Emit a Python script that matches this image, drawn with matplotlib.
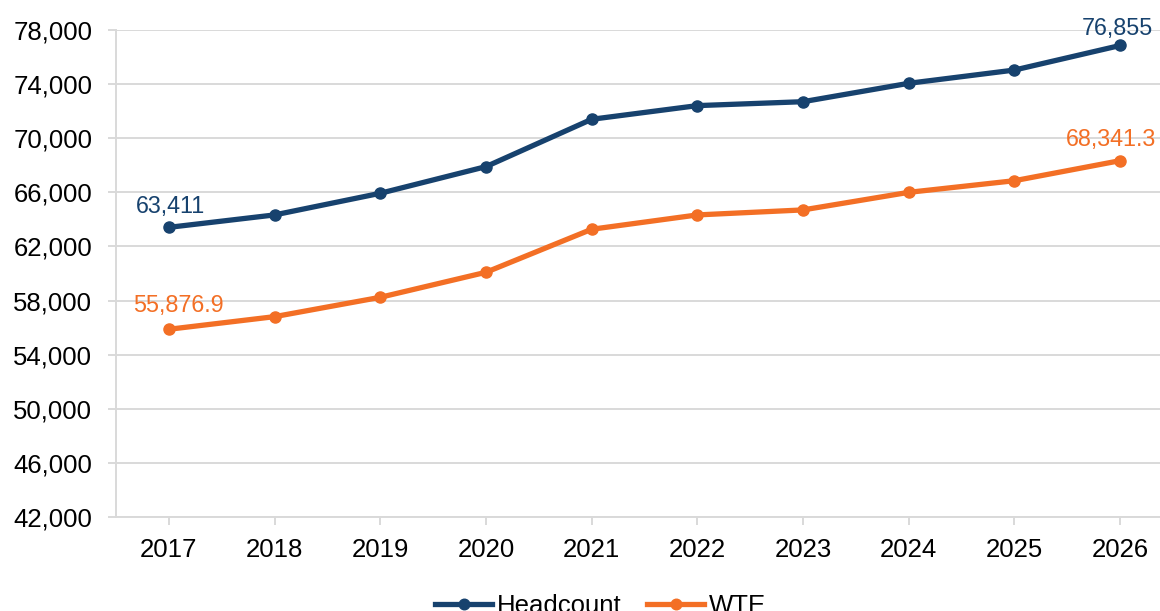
import matplotlib
matplotlib.use("Agg")
import matplotlib.pyplot as plt
from matplotlib.ticker import FuncFormatter

plt.rcParams['font.family'] = ['Liberation Sans', 'DejaVu Sans']

years = ['2017', '2018', '2019', '2020', '2021', '2022', '2023', '2024', '2025', '2026']
headcount = [63411, 64330, 65930, 67900, 71400, 72410, 72700, 74060, 75040, 76855]
wte = [55876.9, 56810, 58240, 60090, 63270, 64330, 64700, 66000, 66860, 68341.3]
y_ticks = [42000, 46000, 50000, 54000, 58000, 62000, 66000, 70000, 74000, 78000]

c_head = '#17426e'
c_wte = '#f36f25'
grid_c = '#d9d9d9'

fig = plt.figure(figsize=(11.6, 6.11), dpi=100)
ax = fig.add_axes([116/1160, 1 - 517/611, 1057/1160, (517-30)/611])

x = list(range(len(years)))
ax.plot(x, headcount, color=c_head, lw=3.8, marker='o', ms=8, label='Headcount', zorder=3)
ax.plot(x, wte, color=c_wte, lw=3.8, marker='o', ms=8, label='WTE', zorder=3)

ax.set_xlim(-0.5, len(years) - 0.5)
ax.set_ylim(y_ticks[0], y_ticks[-1])
ax.set_yticks(y_ticks)
ax.yaxis.set_major_formatter(FuncFormatter(lambda v, p: f'{int(v):,}'))
ax.set_xticks(x)
ax.set_xticklabels(years)
ax.grid(axis='y', color=grid_c, lw=1.4)
ax.set_axisbelow(True)
for s in ['top', 'right']:
    ax.spines[s].set_visible(False)
for s in ['left', 'bottom']:
    ax.spines[s].set_color(grid_c)
    ax.spines[s].set_linewidth(1.4)
ax.tick_params(axis='both', colors=grid_c, length=6, width=1.4, labelsize=18.5, labelcolor='black')
ax.tick_params(axis='y', pad=11)
ax.tick_params(axis='x', pad=9)

# data labels at ends
def lab(i, vals, text, color, dx, dy):
    ax.annotate(text, (x[i], vals[i]), xytext=(dx, dy), textcoords='offset points',
                ha='center', va='baseline', fontsize=16.8, color=color,
                annotation_clip=False)

lab(0, headcount, f'{headcount[0]:,}', c_head, 1, 10)
lab(len(x) - 1, headcount, f'{headcount[-1]:,}', c_head, -2, 7.7)
lab(0, wte, f'{wte[0]:,.1f}', c_wte, 7, 12.7)
lab(len(x) - 1, wte, f'{wte[-1]:,.1f}', c_wte, -6.8, 10.8)

fig.legend(loc='center', bbox_to_anchor=(0.518, 1 - 606/611), ncol=2, frameon=False,
           fontsize=18.5, handlelength=2.2, handletextpad=0.2, columnspacing=1.0,
           markerscale=0.95)

fig.savefig('out.png', dpi=100)
